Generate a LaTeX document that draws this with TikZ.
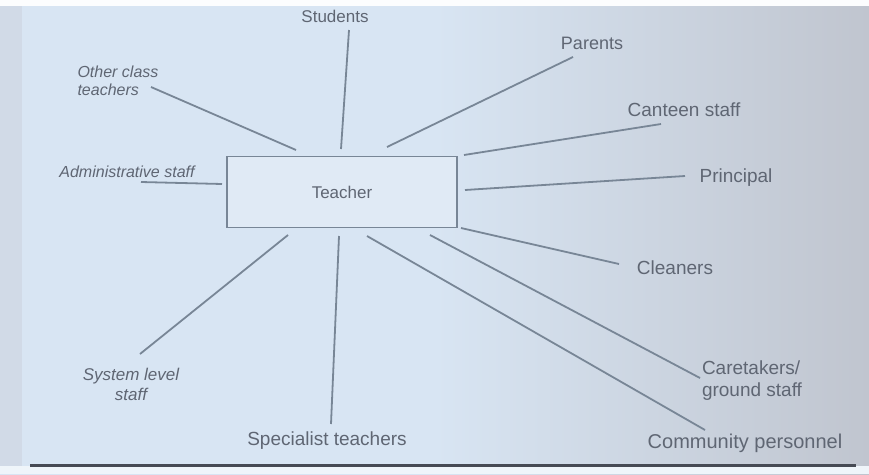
\documentclass[tikz,border=0pt]{standalone}
\usepackage{fontspec}
\setmainfont{Liberation Sans}
\begin{document}
\begin{tikzpicture}[x=1pt,y=-1pt,
  lab/.style={text=labgrey,inner sep=0pt,align=center,font=\fontsize{18}{20}\selectfont},
  ilab/.style={lab,font=\fontsize{16}{18}\selectfont\itshape},
  link/.style={draw=linegrey,line width=1.8pt}]
\definecolor{labgrey}{RGB}{95,102,115}
\definecolor{linegrey}{RGB}{120,134,150}
\definecolor{bgL}{RGB}{205,212,224}
\definecolor{bgM}{RGB}{216,229,243}
\definecolor{bgR}{RGB}{192,197,207}
\definecolor{rule}{RGB}{70,74,84}
\useasboundingbox (0,0) rectangle (869,474);
% background
\shade[left color=bgM,right color=bgR,middle color=bgM] (0,0) rectangle (869,474);
\fill[bgL,opacity=0.6] (0,0) rectangle (22,474);
\fill[white!92!bgM] (0,0) rectangle (869,6);
\fill[white!60!bgM] (0,466) rectangle (869,474);
\draw[rule,line width=3pt] (30,465) -- (856,465);
% central node
\node[draw=linegrey,line width=1.8pt,fill=bgM!80!white,minimum width=230,minimum height=71,inner sep=0pt,text=labgrey,font=\fontsize{17}{19}\selectfont] (T) at (342,192) {Teacher};
% labels
\node[lab,font=\fontsize{17}{19}\selectfont] (stu) at (335,16) {Students};
\node[lab] (par) at (592,43) {Parents};
\node[ilab,align=left] (oth) at (118,81) {Other class\\teachers};
\node[lab,font=\fontsize{19}{21}\selectfont] (can) at (684,110) {Canteen staff};
\node[ilab] (adm) at (127,172) {Administrative staff};
\node[lab,font=\fontsize{19}{21}\selectfont] (pri) at (736,178) {Principal};
\node[lab,font=\fontsize{19}{21}\selectfont] (cle) at (675,268) {Cleaners};
\node[lab,font=\fontsize{19}{22}\selectfont,align=left] (car) at (752,381) {Caretakers/\\ground staff};
\node[lab,font=\fontsize{20}{22}\selectfont] (com) at (745,443) {Community personnel};
\node[lab,font=\fontsize{19}{21}\selectfont] (spe) at (327,441) {Specialist teachers};
\node[ilab,font=\fontsize{17}{20}\selectfont\itshape] (sys) at (131,384) {System level\\staff};
% connector end points
\coordinate (stuA) at (349,30);  \coordinate (stuB) at (341,149);
\coordinate (parA) at (573,57);  \coordinate (parB) at (387,147);
\coordinate (othA) at (151,87);  \coordinate (othB) at (296,150);
\coordinate (canA) at (661,124); \coordinate (canB) at (464,155);
\coordinate (admA) at (141,182); \coordinate (admB) at (222,184);
\coordinate (priA) at (685,176); \coordinate (priB) at (465,190);
\coordinate (cleA) at (619,264); \coordinate (cleB) at (461,228);
\coordinate (carA) at (700,378); \coordinate (carB) at (430,235);
\coordinate (comA) at (705,430); \coordinate (comB) at (367,236);
\coordinate (speA) at (331,424); \coordinate (speB) at (339,236);
\coordinate (sysA) at (140,354); \coordinate (sysB) at (288,235);
% connectors
\foreach \n in {stu,par,oth,can,adm,pri,cle,car,com,spe,sys}
  \draw[link] (\n A) -- (\n B);
\end{tikzpicture}
\end{document}
